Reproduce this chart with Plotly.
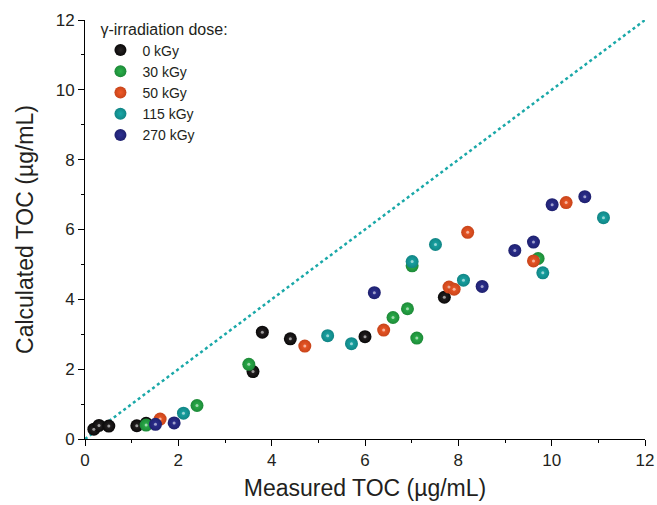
import plotly.graph_objects as go

# Data (Measured TOC, Calculated TOC), µg/mL
doses = ["0 kGy", "30 kGy", "50 kGy", "115 kGy", "270 kGy"]

x_0 = [0.19, 0.30, 0.51, 1.11, 1.31, 3.60, 3.80, 4.40, 6.00, 7.70]
y_0 = [0.28, 0.39, 0.37, 0.38, 0.45, 1.93, 3.06, 2.87, 2.93, 4.06]

x_30 = [1.31, 2.40, 3.51, 6.60, 6.91, 7.11, 7.01, 9.71]
y_30 = [0.40, 0.96, 2.14, 3.48, 3.73, 2.89, 4.96, 5.17]

x_50 = [1.61, 4.71, 6.40, 8.20, 7.80, 7.91, 9.61, 10.31]
y_50 = [0.57, 2.66, 3.12, 5.92, 4.35, 4.29, 5.10, 6.77]

x_115 = [2.11, 5.20, 5.71, 7.51, 7.01, 8.11, 9.81, 11.11]
y_115 = [0.74, 2.96, 2.73, 5.57, 5.08, 4.55, 4.76, 6.34]

x_270 = [1.51, 1.91, 6.20, 8.51, 9.21, 9.61, 10.01, 10.71]
y_270 = [0.42, 0.46, 4.19, 4.37, 5.40, 5.64, 6.71, 6.94]

line_x = [0, 12]
line_y = [0, 12]

colors = ["#2a2627", "#2bb24c", "#f05a28", "#1aa8a8", "#2e3192"]
edge_colors = ["#0a0909", "#1d8a38", "#c8441a", "#118585", "#1f2170"]
series = [(x_0, y_0), (x_30, y_30), (x_50, y_50), (x_115, y_115), (x_270, y_270)]

fig = go.Figure()

fig.add_trace(go.Scatter(
    x=line_x, y=line_y, mode="lines",
    line=dict(color="#1aa8a8", width=2.5, dash="dot"),
    showlegend=False, hoverinfo="skip"))

for name, (xs, ys), c, e in zip(doses, series, colors, edge_colors):
    fig.add_trace(go.Scatter(
        x=xs, y=ys, mode="markers", name=name,
        marker=dict(size=13, color=e, line=dict(width=0),
                    gradient=dict(type="radial", color=c)),
        cliponaxis=False))
    # specular highlight
    fig.add_trace(go.Scatter(
        x=xs, y=ys, mode="markers", showlegend=False, hoverinfo="skip",
        marker=dict(size=3, color="rgba(255,255,255,0.55)", line=dict(width=0)),
        cliponaxis=False))

axis_common = dict(
    range=[0, 12], dtick=2, tick0=0,
    showgrid=False, zeroline=False, automargin=False,
    showline=True, linecolor="black", linewidth=1,
    ticks="outside", ticklen=6, tickwidth=1, tickcolor="black",
    minor=dict(ticks="outside", ticklen=3, tickwidth=1, tickcolor="black", dtick=1, showgrid=False),
    tickfont=dict(family="Liberation Sans, Arial", size=17, color="#231f20"),
)

fig.update_layout(
    width=657, height=505,
    margin=dict(l=85, r=12, t=20, b=66),
    paper_bgcolor="white", plot_bgcolor="white",
    font=dict(family="Liberation Sans, Arial", color="#231f20"),
    xaxis=dict(**axis_common,
               title=dict(text="Measured TOC (µg/mL)", font=dict(size=23), standoff=10)),
    yaxis=dict(**axis_common,
               title=dict(text="Calculated TOC (µg/mL)", font=dict(size=23), standoff=15)),
    legend=dict(
        x=0.024, y=1.015, xanchor="left", yanchor="top",
        bgcolor="rgba(0,0,0,0)",
        title=dict(text="γ-irradiation dose:", font=dict(size=16)),
        font=dict(size=14), itemsizing="constant", tracegroupgap=0,
        itemwidth=34,
    ),
)

fig.write_html("out.html", config={"displayModeBar": False},
               post_script="document.body.style.margin='0';")
